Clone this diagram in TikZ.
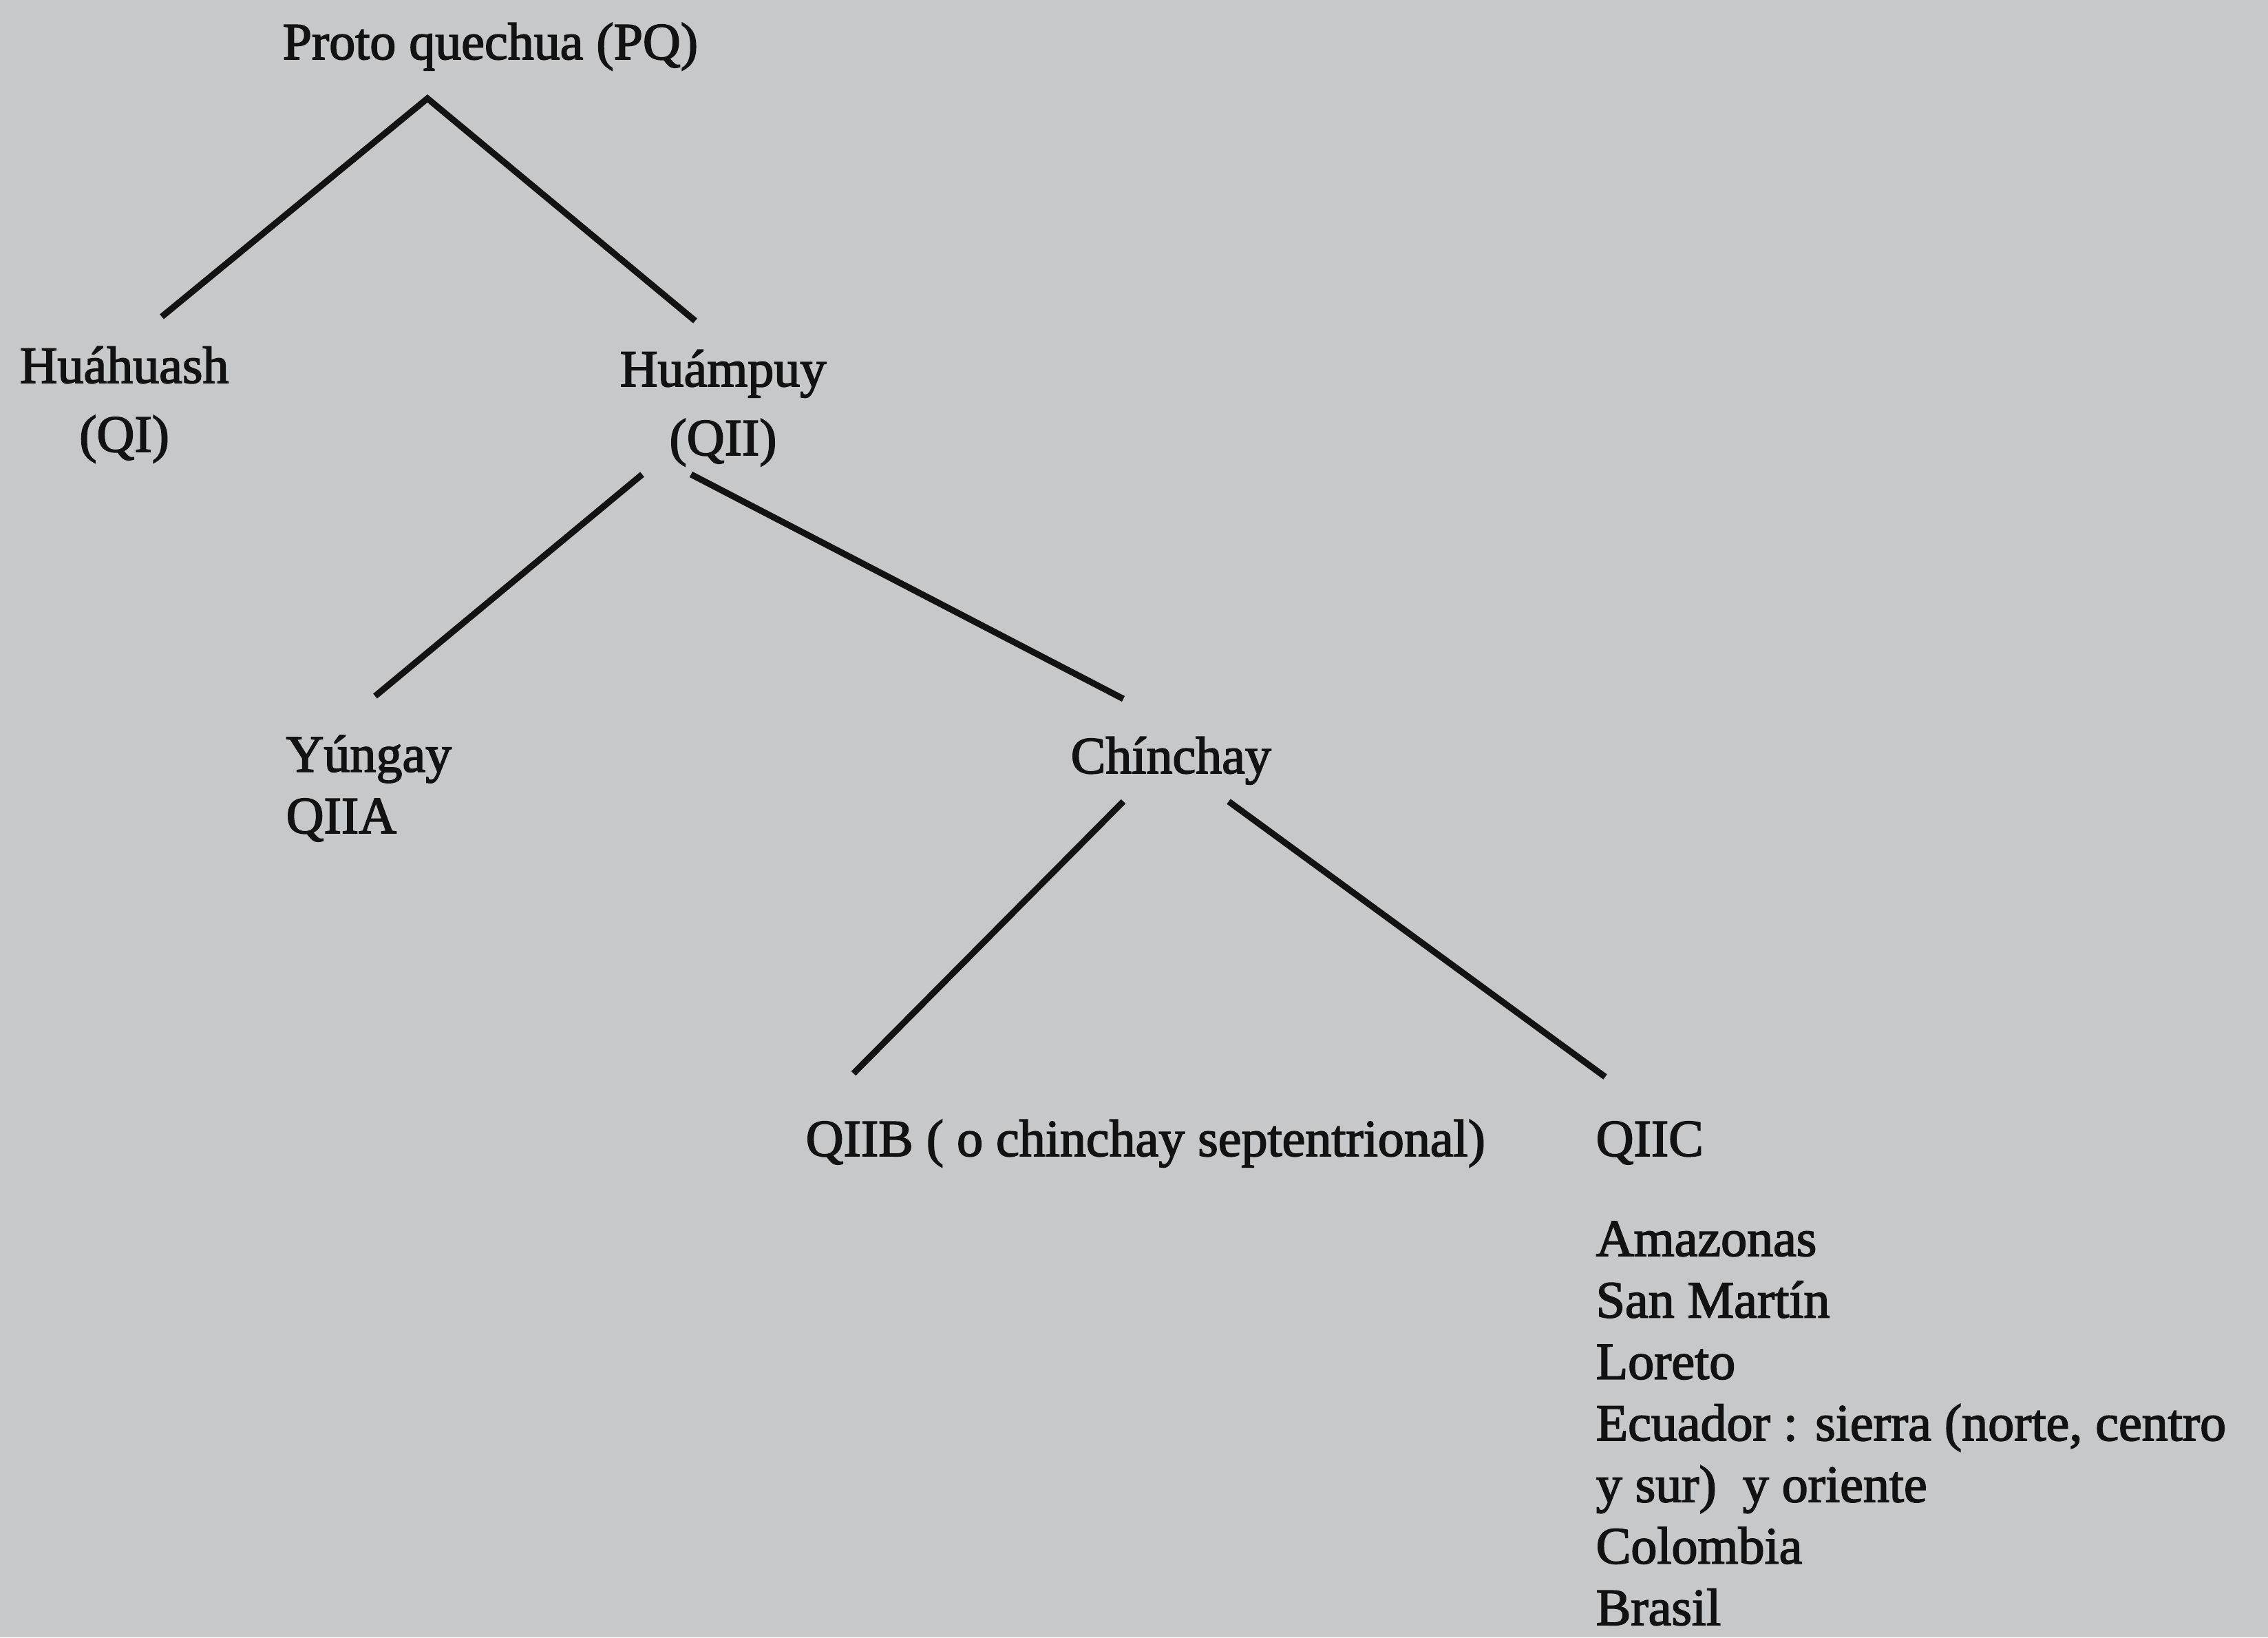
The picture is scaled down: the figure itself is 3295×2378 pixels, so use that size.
\documentclass[tikz,border=0pt]{standalone}
\usepackage{fontspec}
\newfontfamily\scanfont{Liberation Serif}[FakeBold=2.2]
\definecolor{paper}{RGB}{199,200,202}
\definecolor{ink}{RGB}{18,18,18}

\begin{document}
\begin{tikzpicture}[x=0.01cm, y=-0.01cm,
    lbl/.style = {inner sep=0pt, anchor=base west, text=ink,
                  font=\scanfont\fontsize{21.6}{25.4}\selectfont},
    widelbl/.style = {lbl, font=\scanfont\fontsize{21.6}{28.4}\selectfont},
    branch/.style = {draw=ink, line width=2.6pt}]
    \useasboundingbox (0,0) rectangle (3295,2378);
    \fill[paper] (0,0) rectangle (3295,2378);

    % language names (base = last line)
    \node[lbl] at (410, 86) (pq) {Proto quechua (PQ)};
    \node[widelbl, align=center] at (28, 656) (qi) {Huáhuash\\(QI)};
    \node[widelbl, align=center] at (900, 661) (qii) {Huámpuy\\(QII)};
    \node[lbl, align=left] at (415, 1210) (qiia) {Yúngay\\QIIA};
    \node[lbl] at (1555, 1123) (chin) {Chínchay};
    \node[lbl] at (1170, 1679) (qiib) {QIIB ( o chinchay septentrional)};
    \node[lbl] at (2318, 1679) (qiic) {QIIC};
    \node[lbl, align=left] at (2318, 2360) (areas) {Amazonas\\San Martín\\Loreto\\Ecuador : sierra (norte, centro\\y sur)\ \ y oriente\\Colombia\\Brasil};

    % branch ends
    \coordinate (pq-fork) at (621, 143);
    \coordinate (qi-end) at (235, 460);
    \coordinate (qii-end) at (1010, 466);
    \coordinate (qii-left) at (933, 689);
    \coordinate (qii-right) at (1004, 689);
    \coordinate (qiia-end) at (545, 1011);
    \coordinate (chin-end) at (1632, 1015);
    \coordinate (chin-left) at (1632, 1164);
    \coordinate (chin-right) at (1785, 1164);
    \coordinate (qiib-end) at (1240, 1559);
    \coordinate (qiic-end) at (2332, 1564);

    \draw[branch] (qi-end) -- (pq-fork) -- (qii-end);
    \draw[branch] (qii-left) -- (qiia-end);
    \draw[branch] (qii-right) -- (chin-end);
    \draw[branch] (chin-left) -- (qiib-end);
    \draw[branch] (chin-right) -- (qiic-end);
\end{tikzpicture}
\end{document}
